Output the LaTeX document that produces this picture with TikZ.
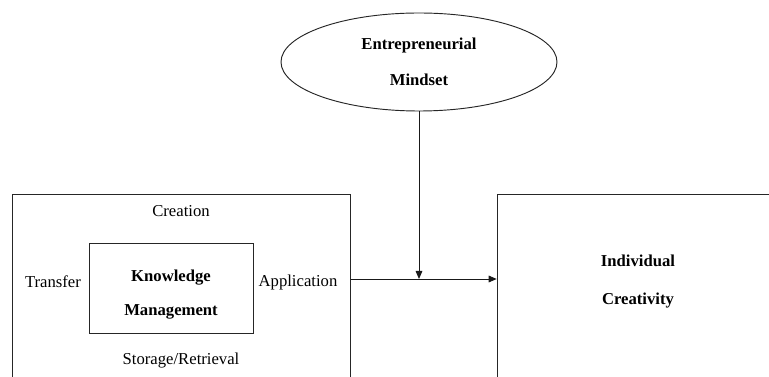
\documentclass[tikz,border=0pt]{standalone}
\usepackage{fontspec}
\setmainfont{Liberation Serif}
\usetikzlibrary{shapes.geometric,arrows.meta}

\begin{document}
\begin{tikzpicture}[x=0.75pt,y=-0.75pt,
    every node/.style={font=\fontsize{12.5}{14}\selectfont, inner sep=0pt},
    box/.style={draw=black!85, line width=0.7pt, rectangle},
    heading/.style={font=\fontsize{12.5}{14}\selectfont\bfseries, align=center},
    link/.style={draw=black!90, line width=0.7pt, -{Triangle[length=6pt,width=5pt]}}]

\clip (0,0) rectangle (769,377);

% outer box with the four processes round the inner box
\node[box, minimum width=254pt, minimum height=169pt] (kmouter) at (181.5,307.5) {};
\node[box, minimum width=123pt, minimum height=67.5pt] (kmbox) at (171,288) {};
\node[heading] (kmtext) at (171,294.5) {Knowledge\\[12pt]Management};

\foreach \name/\x/\y/\txt in {
    create/181/211/Creation,
    transfer/53/282/Transfer,
    apply/298/282/Application,
    store/181/361/Storage\slash Retrieval%
} {
    \node (\name) at (\x,\y) {\txt};
}

% moderator on top
\node[draw=black!85, ellipse, line width=0.7pt, minimum width=207pt, minimum height=73.5pt,
      heading] (mindset) at (419,62) {Entrepreneurial\\[13pt]Mindset};

% outcome box on the right
\node[box, minimum width=227pt, minimum height=169pt] (creative) at (648.5,307.5) {};
\node[heading] (creativetext) at (638,281.5) {Individual\\[14pt]Creativity};

% arrows
\coordinate (join) at (419,279);
\draw[link] (mindset.south) -- (join);
\draw[link] (kmouter.east |- join) -- (creative.west |- join);

\end{tikzpicture}
\end{document}
